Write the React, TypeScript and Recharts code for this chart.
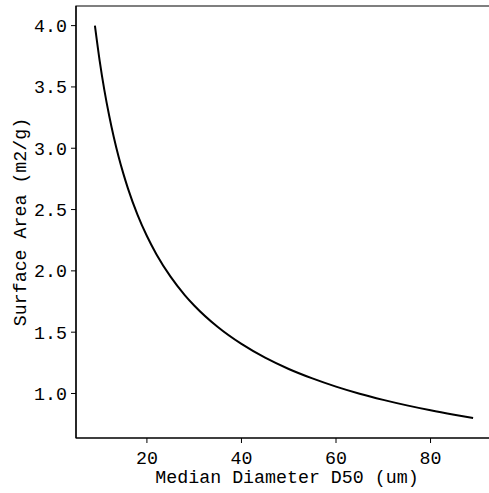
import React from "react";
import { LineChart, Line, XAxis, YAxis, ReferenceArea } from "recharts";

// Median diameter D50 (um)
const diameters = [9, 10, 11, 12, 13, 14, 15, 16, 18, 20, 22, 25, 28, 30, 35, 40, 45, 50, 55, 60, 65, 70, 75, 80, 85, 89];
// Surface area (m2/g)
const surfaceAreas = [4.0, 3.715, 3.474, 3.269, 3.09, 2.933, 2.795, 2.671, 2.459, 2.284, 2.136, 1.953, 1.803, 1.718, 1.542, 1.404, 1.292, 1.2, 1.123, 1.056, 0.998, 0.948, 0.903, 0.863, 0.827, 0.8];

const xTicks = [20, 40, 60, 80];
const yTicks = [1.0, 1.5, 2.0, 2.5, 3.0, 3.5, 4.0];
const xDomain = [5, 93];
const yDomain = [0.637, 4.16];

const xLabel = "Median Diameter D50 (um)";
const yLabel = "Surface Area (m2/g)";

const data = diameters.map((d, i) => ({ d, sa: surfaceAreas[i] }));

const FONT = "'Liberation Mono', 'DejaVu Sans Mono', monospace";
const FS = 18.3;

const XLabel = (props: any) => {
  const vb = props.viewBox;
  return (
    <text x={vb.x + vb.width / 2 + 3} y={vb.y + 45} textAnchor="middle" fontFamily={FONT} fontSize={FS} fill="#000">
      {xLabel}
    </text>
  );
};

const YLabel = (props: any) => {
  const vb = props.viewBox;
  const cx = vb.x + 26;
  const cy = vb.y + vb.height / 2;
  return (
    <text x={cx} y={cy} transform={`rotate(-90 ${cx} ${cy})`} textAnchor="middle" fontFamily={FONT} fontSize={FS} fill="#000">
      {yLabel}
    </text>
  );
};

export default function App() {
  return (
    <div style={{ position: "absolute", left: 0, top: 0, width: 489, height: 493, overflow: "hidden", background: "#fff" }}>
      <LineChart width={493} height={493} data={data} margin={{ top: 6, right: 1, left: 0, bottom: 0 }}>
        <XAxis
          dataKey="d"
          type="number"
          domain={xDomain}
          ticks={xTicks}
          height={55}
          axisLine={{ stroke: "#000", strokeWidth: 1.2 }}
          tickLine={{ stroke: "#000", strokeWidth: 1 }}
          tickSize={5}
          tickMargin={8}
          tick={{ fill: "#000", fontFamily: FONT, fontSize: FS }}
          label={<XLabel />}
        />
        <YAxis
          type="number"
          domain={yDomain}
          ticks={yTicks}
          width={76}
          allowDataOverflow
          tickFormatter={(v: number) => v.toFixed(1)}
          axisLine={{ stroke: "#000", strokeWidth: 1.2 }}
          tickLine={{ stroke: "#000", strokeWidth: 1 }}
          tickSize={5}
          tickMargin={4}
          tick={{ fill: "#000", fontFamily: FONT, fontSize: FS }}
          label={<YLabel />}
        />
        <ReferenceArea x1={xDomain[0]} x2={xDomain[1]} y1={yDomain[0]} y2={yDomain[1]} fill="none" stroke="#000" strokeWidth={1.2} fillOpacity={0} />
        <Line dataKey="sa" type="monotone" stroke="#000" strokeWidth={2} dot={false} isAnimationActive={false} />
      </LineChart>
    </div>
  );
}
